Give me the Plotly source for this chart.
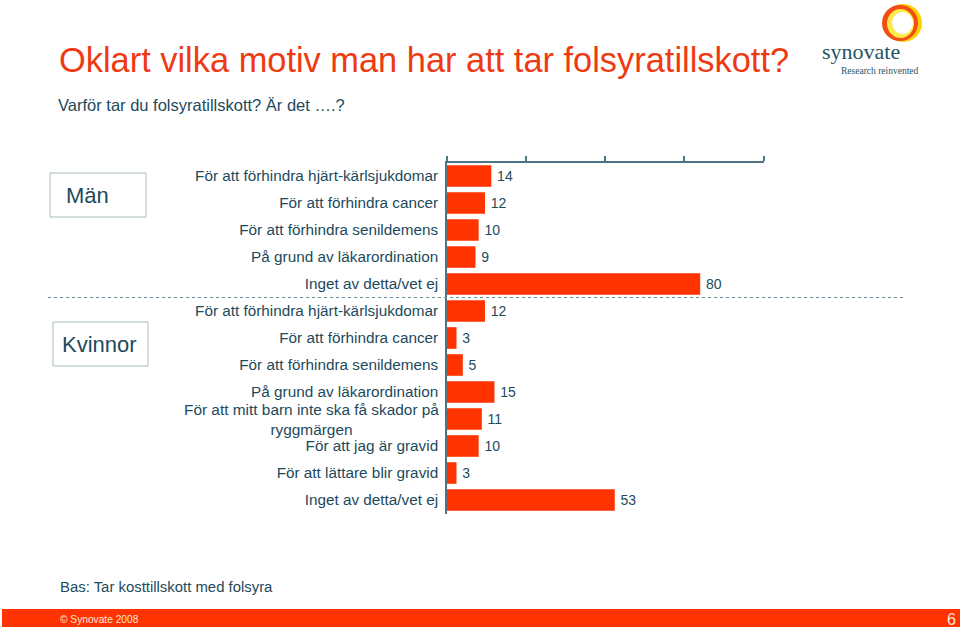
import plotly.graph_objects as go

# Data
labels = ['För att förhindra hjärt-kärlsjukdomar', 'För att förhindra cancer', 'För att förhindra senildemens',
          'På grund av läkarordination', 'Inget av detta/vet ej',
          'För att förhindra hjärt-kärlsjukdomar', 'För att förhindra cancer', 'För att förhindra senildemens',
          'På grund av läkarordination', 'För att mitt barn inte ska få skador på<br>ryggmärgen',
          'För att jag är gravid', 'För att lättare blir gravid', 'Inget av detta/vet ej']
values = [14, 12, 10, 9, 80, 12, 3, 5, 15, 11, 10, 3, 53]
rows = list(range(len(values)))
x_ticks = [0, 25, 50, 75, 100]

W, H = 960, 629
FONT = 'Liberation Sans'
TEAL = '#1d4a5c'
RED = '#ff3300'
AXIS = '#4d7385'


# pixel position -> paper coordinate
def px(x):
    return x / W


def py(y):
    return 1 - y / H


fig = go.Figure()
fig.add_trace(go.Bar(
    x=values,
    y=rows,
    orientation='h',
    marker=dict(color=RED, line=dict(width=0)),
    texttemplate='\u2009%{x}',
    textposition='outside',
    textfont=dict(family=FONT, size=14, color=TEAL),
    cliponaxis=False,
    hoverinfo='skip',
))

# the two-line label is centred in the original, so it is an annotation, not a tick
tick_text = [t if '<br>' not in t else ' ' for t in labels]

fig.update_layout(
    width=W, height=H,
    margin=dict(l=0, r=0, t=0, b=0),
    paper_bgcolor='white',
    plot_bgcolor='white',
    showlegend=False,
    bargap=0.2,
    font=dict(family=FONT, color=TEAL),
    xaxis=dict(domain=[px(447), px(763.5)], range=[0, 100], side='top', anchor='y',
               tickvals=x_ticks, showticklabels=False, ticks='outside', ticklen=5, tickcolor=AXIS,
               tickwidth=1.5, showgrid=False, zeroline=False, showline=True, linecolor=AXIS, linewidth=1.5),
    yaxis=dict(domain=[py(513.5), py(162.5)], range=[12.5, -0.5], anchor='x', tickvals=rows, ticktext=tick_text,
               ticks='', ticklabelstandoff=4, tickfont=dict(family=FONT, size=15.3, color=TEAL),
               showgrid=False, zeroline=False, showline=True, linecolor=AXIS, linewidth=1.5),
)

shapes = [
    # footer band
    dict(type='rect', xref='paper', yref='paper', x0=px(2), x1=1, y0=py(627), y1=py(609),
         fillcolor=RED, line_width=0, layer='below'),
    # dashed separator
    dict(type='line', xref='paper', yref='paper', x0=px(48), x1=px(903), y0=py(297.5), y1=py(297.5),
         line=dict(color='#6f8a96', width=1, dash='dot')),
    # group boxes
    dict(type='rect', xref='paper', yref='paper', x0=px(50), x1=px(146), y0=py(217), y1=py(173),
         line=dict(color='#a9bcc2', width=1)),
    dict(type='rect', xref='paper', yref='paper', x0=px(53), x1=px(148), y0=py(366), y1=py(322),
         line=dict(color='#a9bcc2', width=1)),
    # logo ring
    dict(type='circle', xref='paper', yref='paper', x0=px(884), x1=px(922), y0=py(42), y1=py(4),
         fillcolor='#ffd000', line_width=0),
    dict(type='circle', xref='paper', yref='paper', x0=px(882), x1=px(918), y0=py(41), y1=py(5),
         fillcolor='#f04e12', line_width=0),
    dict(type='circle', xref='paper', yref='paper', x0=px(887), x1=px(914), y0=py(38), y1=py(9),
         fillcolor='#ffe94a', line_width=0),
    dict(type='circle', xref='paper', yref='paper', x0=px(892), x1=px(913), y0=py(34), y1=py(12),
         fillcolor='white', line_width=0),
]
fig.update_layout(shapes=shapes)


def note(x, y, text, size, color=TEAL, anchor='left', family=FONT, align='left'):
    fig.add_annotation(xref='paper', yref='paper', x=px(x), y=py(y), text=text, showarrow=False,
                       xanchor=anchor, yanchor='middle', align=align, xshift=0, yshift=0,
                       borderpad=0, borderwidth=0, font=dict(family=family, size=size, color=color))


note(59, 60, 'Oklart vilka motiv man har att tar folsyratillskott?', 34.4, '#ee3a12')
note(58, 105, 'Varför tar du folsyratillskott? Är det ….?', 16.5)
note(66, 195, 'Män', 22)
note(62, 344, 'Kvinnor', 22)
note(438.5, 419.5, labels[9], 15.4, anchor='right', align='center')
note(60, 587, 'Bas: Tar kosttillskott med folsyra', 14.9)
note(60, 619, '© Synovate 2008', 10.2, color='#ffe6dc')
note(956, 619, '6', 16, color='#ffe6dc', anchor='right')
note(822, 51, 'synovate', 22, color='#1f5566', family='Liberation Serif')
note(841, 71, 'Research reinvented', 9.5, color='#1f5566', family='Liberation Serif')

fig.write_html('out.html', post_script="document.body.style.margin='0';", config=dict(displayModeBar=False))
